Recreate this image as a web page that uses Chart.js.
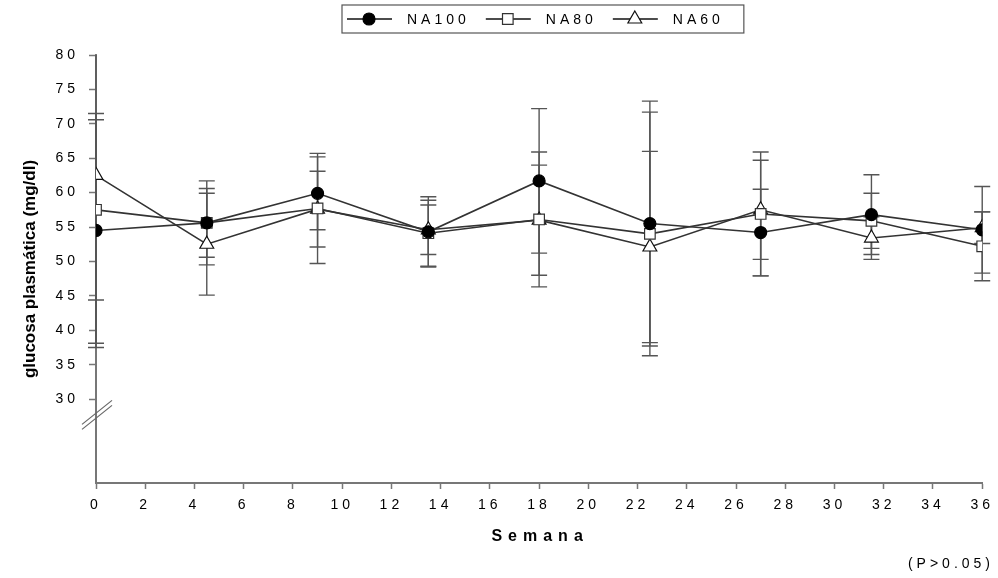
<!DOCTYPE html>
<html>
<head>
<meta charset="utf-8">
<script src="https://cdn.jsdelivr.net/npm/chart.js@4.4.0/dist/chart.umd.min.js"></script>
<style>
  body { margin: 0; background: #fff; }
  #wrap { width: 998px; height: 578px; position: relative; }
</style>
</head>
<body>
<div id="wrap"><canvas id="glucosa"></canvas></div>
<script>
// semanas de muestreo
var weeks = [0, 4.5, 9, 13.5, 18, 22.5, 27, 31.5, 36];

// medias por tratamiento
var na100 = [54.5, 55.6, 59.9, 54.3, 61.7, 55.5, 54.2, 56.8, 54.6];
var na80 = [57.5, 55.6, 57.7, 54.1, 56.1, 54.0, 56.9, 55.9, 52.2];
var na60 = [62.5, 52.5, 57.6, 54.6, 56.0, 52.1, 57.5, 53.4, 54.9];

// desviaciones (+/-)
var na100Err = [17.0, 6.1, 5.3, 5.1, 10.5, 17.8, 6.3, 5.8, 6.3];
var na80Err = [13.1, 5.0, 8.0, 4.8, 9.8, 17.7, 9.0, 4.0, 5.0];
var na60Err = [24.4, 7.4, 5.5, 3.6, 8.0, 13.9, 7.2, 3.1, 2.3];

var seriesNames = ["NA100", "NA80", "NA60"];
var xTicks = [0, 2, 4, 6, 8, 10, 12, 14, 16, 18, 20, 22, 24, 26, 28, 30, 32, 34, 36];
var yTicks = [30, 35, 40, 45, 50, 55, 60, 65, 70, 75, 80];

var FONT = "'Liberation Sans', Arial, sans-serif";

function toPoints(values) {
  return values.map(function (v, i) { return { x: weeks[i], y: v }; });
}

// error bars, drawn under the lines
var errorBars = {
  id: "errorBars",
  beforeDatasetsDraw: function (chart) {
    var ctx = chart.ctx, xs = chart.scales.x, ys = chart.scales.y, area = chart.chartArea;
    ctx.save();
    ctx.beginPath();
    ctx.rect(area.left - 20, area.top, area.right - area.left + 40, area.bottom - area.top);
    ctx.clip();
    ctx.strokeStyle = "#555";
    ctx.lineWidth = 1.4;
    chart.data.datasets.forEach(function (ds) {
      ds.data.forEach(function (p, j) {
        var e = ds.errors[j];
        var x = xs.getPixelForValue(p.x);
        var y1 = ys.getPixelForValue(p.y + e);
        var y2 = ys.getPixelForValue(p.y - e);
        ctx.beginPath();
        ctx.moveTo(x, y1); ctx.lineTo(x, y2);
        ctx.moveTo(x - 8, y1); ctx.lineTo(x + 8, y1);
        ctx.moveTo(x - 8, y2); ctx.lineTo(x + 8, y2);
        ctx.stroke();
      });
    });
    ctx.restore();
  }
};

// letter spacing for tick labels
var spacing = {
  id: "spacing",
  beforeDraw: function (chart) {
    chart.ctx.letterSpacing = "4px";
  }
};

// legend box, axis break, titles
var extras = {
  id: "extras",
  afterDraw: function (chart) {
    var ctx = chart.ctx, ys = chart.scales.y, area = chart.chartArea;
    ctx.save();

    // axis break
    var yb = ys.getPixelForValue(27.7);
    ctx.strokeStyle = "#666";
    ctx.lineWidth = 1.2;
    [-2.5, 2.5].forEach(function (d) {
      ctx.beginPath();
      ctx.moveTo(area.left - 14, yb + 12 + d);
      ctx.lineTo(area.left + 16, yb - 12 + d);
      ctx.stroke();
    });

    // y title
    ctx.letterSpacing = "0px";
    ctx.fillStyle = "#000";
    ctx.font = "bold 17px " + FONT;
    ctx.textAlign = "center";
    ctx.textBaseline = "middle";
    ctx.save();
    ctx.translate(30, (area.top + area.bottom) / 2);
    ctx.rotate(-Math.PI / 2);
    ctx.fillText("glucosa plasmática (mg/dl)", 0, 0);
    ctx.restore();

    // x title
    ctx.letterSpacing = "6px";
    ctx.font = "bold 16px " + FONT;
    ctx.fillText("Semana", (area.left + area.right) / 2 + 1, 537);

    // p value
    ctx.letterSpacing = "4px";
    ctx.font = "14px " + FONT;
    ctx.textAlign = "right";
    ctx.fillText("(P>0.05)", 994, 564);

    // legend
    ctx.letterSpacing = "4px";
    ctx.font = "14px " + FONT;
    ctx.textAlign = "left";
    var x = 347, cy = 19;
    chart.data.datasets.forEach(function (ds) {
      ctx.strokeStyle = "#111";
      ctx.lineWidth = 1.5;
      ctx.beginPath();
      ctx.moveTo(x, cy); ctx.lineTo(x + 45, cy);
      ctx.stroke();
      ctx.fillStyle = ds.pointBackgroundColor;
      ctx.strokeStyle = ds.pointBorderColor;
      ctx.lineWidth = ds.pointBorderWidth;
      Chart.helpers.drawPoint(ctx, {
        pointStyle: ds.pointStyle, radius: ds.pointRadius,
        borderWidth: ds.pointBorderWidth, rotation: 0
      }, x + 22, cy);
      ctx.fillStyle = "#000";
      ctx.fillText(ds.label, x + 60, cy + 1);
      x += 60 + ctx.measureText(ds.label).width + 16;
    });
    ctx.strokeStyle = "#555";
    ctx.lineWidth = 1.2;
    ctx.strokeRect(342, 5, x - 342 + 4, 28);

    ctx.restore();
  }
};

var ctx = document.getElementById("glucosa").getContext("2d");
var glucosaChart = new Chart(ctx, {
  type: "line",
  data: {
    datasets: [{
      label: seriesNames[0],
      data: toPoints(na100),
      errors: na100Err,
      borderColor: "#333",
      borderWidth: 1.6,
      pointStyle: "circle",
      pointRadius: 6,
      pointBackgroundColor: "#000",
      pointBorderColor: "#000",
      pointBorderWidth: 1.2
    }, {
      label: seriesNames[1],
      data: toPoints(na80),
      errors: na80Err,
      borderColor: "#333",
      borderWidth: 1.6,
      pointStyle: "rect",
      pointRadius: 7.5,
      pointBackgroundColor: "#fff",
      pointBorderColor: "#333",
      pointBorderWidth: 1.2
    }, {
      label: seriesNames[2],
      data: toPoints(na60),
      errors: na60Err,
      borderColor: "#333",
      borderWidth: 1.6,
      pointStyle: "triangle",
      pointRadius: 8,
      pointBackgroundColor: "#fff",
      pointBorderColor: "#111",
      pointBorderWidth: 1.2
    }]
  },
  options: {
    responsive: true,
    maintainAspectRatio: false,
    animation: false,
    layout: { padding: { left: 0, top: 55, right: 15, bottom: 0 } },
    plugins: {
      legend: { display: false },
      tooltip: { enabled: false }
    },
    scales: {
      x: {
        type: "linear",
        min: 0,
        max: 36,
        afterBuildTicks: function (scale) {
          scale.ticks = xTicks.map(function (v) { return { value: v }; });
        },
        afterFit: function (scale) { scale.height = 95; },
        grid: { drawOnChartArea: false, tickLength: 6, tickColor: "#777", tickWidth: 1.5 },
        border: { color: "#777", width: 2 },
        ticks: { color: "#000", padding: 8, maxRotation: 0, font: { family: FONT, size: 14 } }
      },
      y: {
        min: 17.8,
        max: 80,
        afterBuildTicks: function (scale) {
          scale.ticks = yTicks.map(function (v) { return { value: v }; });
        },
        afterFit: function (scale) { scale.width = 96; },
        grid: { drawOnChartArea: false, tickLength: 7, tickColor: "#777", tickWidth: 1.5 },
        border: { color: "#777", width: 2 },
        ticks: { color: "#000", padding: 10, font: { family: FONT, size: 14 } }
      }
    }
  },
  plugins: [spacing, errorBars, extras]
});
</script>
</body>
</html>
